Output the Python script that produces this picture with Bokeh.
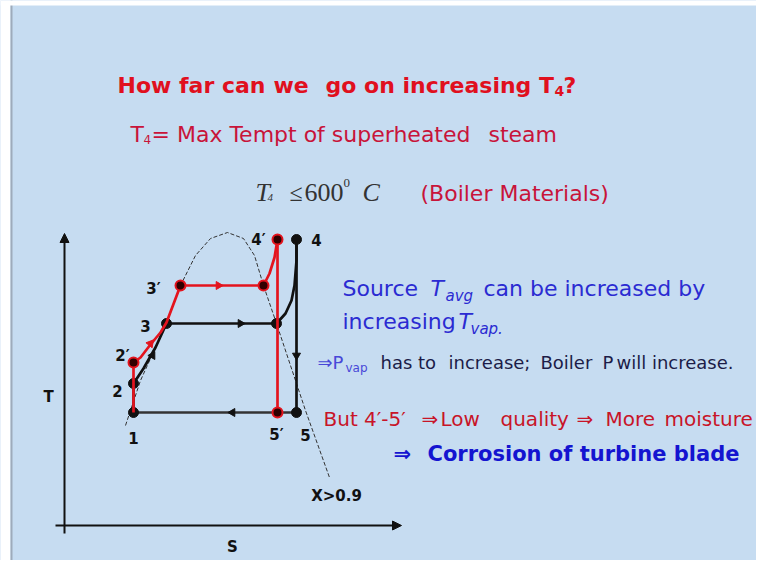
from bokeh.plotting import figure
from bokeh.models import Range1d, Label, Arrow, NormalHead, BoxAnnotation
from bokeh.embed import file_html
from bokeh.resources import INLINE
import math

# ---------------- data (s, T in arbitrary diagram units) ----------------
# original cycle 1-2-3-4-5 (black)
pump_s = [1.725, 1.725]
pump_T = [2.825, 3.55]
heat_s = [1.725, 1.975, 2.275, 2.55]
heat_T = [3.55, 3.925, 4.45, 5.05]
evap_s = [2.55, 5.3]
evap_T = [5.05, 5.05]
sup_s = [5.3, 5.525, 5.675, 5.75, 5.8, 5.8]
sup_T = [5.05, 5.3, 5.625, 6.0, 6.625, 7.15]
turb_s = [5.8, 5.8]
turb_T = [7.15, 2.825]
cond_s = [5.8, 1.725]
cond_T = [2.825, 2.825]

# raised-pressure cycle 1-2'-3'-4'-5' (red)
pump2_s = [1.725, 1.725]
pump2_T = [2.825, 4.075]
heat2_s = [1.725, 1.9, 2.15, 2.4, 2.55, 2.9]
heat2_T = [4.075, 4.2, 4.525, 4.825, 5.075, 6.0]
evap2_s = [2.9, 4.975]
evap2_T = [6.0, 6.0]
sup2_s = [4.975, 5.125, 5.25, 5.325]
sup2_T = [6.0, 6.3, 6.7, 7.15]
turb2_s = [5.325, 5.325]
turb2_T = [7.15, 2.825]

# saturation dome
dome_s = [1.525, 1.9, 2.55, 2.9, 3.275, 3.65, 4.075, 4.475, 4.75, 4.975, 5.3, 5.65, 6.025, 6.625]
dome_T = [2.5, 3.625, 5.05, 6.0, 6.75, 7.175, 7.325, 7.175, 6.75, 6.0, 5.05, 4.0, 2.875, 1.2]

# state points
black_pts_s = [1.725, 1.725, 2.55, 5.3, 5.8, 5.8]
black_pts_T = [2.825, 3.55, 5.05, 5.05, 7.15, 2.825]
red_pts_s = [1.725, 2.9, 4.975, 5.325, 5.325]
red_pts_T = [4.075, 6.0, 6.0, 7.15, 2.825]

# direction arrows on the process lines
arr_black_s = [4.4, 5.8, 4.2, 2.2]
arr_black_T = [5.05, 4.25, 2.825, 4.25]
arr_black_ang = [-math.pi / 2, math.pi, math.pi / 2, -0.52]
arr_red_s = [3.85, 2.15]
arr_red_T = [6.0, 4.55]
arr_red_ang = [-math.pi / 2, -0.68]

# axes extents
s_axis = [-0.225, 8.425]
T_axis = [-0.2, 7.3]

BG = "#c6dcf1"
RED = "#e4141e"
BLK = "#111111"

p = figure(width=756, height=560, x_range=Range1d(-1.6, 17.3), y_range=Range1d(-0.875, 13.125),
           x_axis_type=None, y_axis_type=None, toolbar_location=None, output_backend="svg",
           min_border=0, min_border_left=0, min_border_right=0, min_border_top=0, min_border_bottom=0)
p.background_fill_color = BG
p.border_fill_color = BG
p.outline_line_color = None
p.grid.visible = False

# slide border hints
p.add_layout(BoxAnnotation(left=0, right=10, left_units="screen", right_units="screen",
                           fill_color="white", fill_alpha=1, line_color=None))
p.add_layout(BoxAnnotation(left=10, right=12, left_units="screen", right_units="screen",
                           fill_color="#9eabbb", fill_alpha=1, line_color=None))
p.add_layout(BoxAnnotation(bottom=555, top=560, bottom_units="screen", top_units="screen",
                           fill_color="white", fill_alpha=1, line_color=None))

# axes
p.add_layout(Arrow(end=NormalHead(size=9, fill_color=BLK, line_color=BLK), x_start=0, y_start=T_axis[0],
                   x_end=0, y_end=T_axis[1], line_width=2, line_color=BLK))
p.add_layout(Arrow(end=NormalHead(size=9, fill_color=BLK, line_color=BLK), x_start=s_axis[0], y_start=0,
                   x_end=s_axis[1], y_end=0, line_width=2, line_color=BLK))

# dome
p.line(dome_s, dome_T, line_color="#333333", line_width=1, line_dash="4 2")

# black cycle
for xs, ys, c in [(pump_s, pump_T, BLK), (heat_s, heat_T, BLK), (evap_s, evap_T, BLK),
                  (sup_s, sup_T, BLK), (turb_s, turb_T, BLK), (cond_s, cond_T, "#333333")]:
    p.line(xs, ys, line_color=c, line_width=2.7, line_join="round")
p.scatter(black_pts_s, black_pts_T, marker="circle", size=10, fill_color=BLK, line_color=BLK)

# red cycle
for xs, ys in [(pump2_s, pump2_T), (heat2_s, heat2_T), (evap2_s, evap2_T), (sup2_s, sup2_T), (turb2_s, turb2_T)]:
    p.line(xs, ys, line_color=RED, line_width=2.7, line_join="round")
p.scatter(red_pts_s, red_pts_T, marker="circle", size=10, fill_color="#300000", line_color=RED, line_width=2)

p.scatter(arr_black_s, arr_black_T, marker="triangle", size=8, angle=arr_black_ang,
          fill_color=BLK, line_color=BLK)
p.scatter(arr_red_s, arr_red_T, marker="triangle", size=8, angle=arr_red_ang,
          fill_color=RED, line_color=RED)


def lab(x, y, text, size, color, font="DejaVu Sans", style="normal", align="left", baseline="alphabetic"):
    p.add_layout(Label(x=x, y=560 - y, x_units="screen", y_units="screen", text=text,
                       text_font=font, text_font_size=f"{size}px", text_font_style=style,
                       text_color=color, text_align=align, text_baseline=baseline))


# diagram labels
for t, x, y in [("4′", 258, 239), ("4", 316, 239), ("3′", 153, 288), ("3", 145, 325), ("2′", 122, 355),
                ("2", 117, 390), ("1", 133, 437), ("5′", 276, 434), ("5", 305, 434), ("T", 48, 396),
                ("S", 232, 546), ("X>0.9", 336, 495)]:
    lab(x, y, t, 15, BLK, style="bold", align="center", baseline="middle")

# title
TR = "#e0101e"
lab(117, 85, "How far can", 22, TR, style="bold")
lab(273, 85, "we", 22, TR, style="bold")
lab(325, 85, "go on increasing T", 22, TR, style="bold")
lab(554, 90, "4", 14, TR, style="bold")
lab(563, 85, "?", 22, TR, style="bold")

R2 = "#c8143a"
lab(130, 134, "T", 22, R2)
lab(143, 139, "4", 12, R2)
lab(151, 134, "= Max Tempt of superheated", 22, R2)
lab(488, 134, "steam", 22, R2)

EQ = "#333333"
lab(255, 192, "T", 26, EQ, font="Liberation Serif", style="italic")
lab(267, 197, "4", 11, EQ, font="Liberation Serif", style="italic")
lab(289, 192, "≤", 24, EQ, font="Liberation Serif")
lab(304, 192, "600", 26, EQ, font="Liberation Serif")
lab(343, 182, "0", 13, EQ, font="Liberation Serif")
lab(362, 192, "C", 26, EQ, font="Liberation Serif", style="italic")
lab(420, 193, "(Boiler Materials)", 22, R2)

BL = "#2b2bd2"
lab(342, 288, "Source", 22, BL)
lab(430, 288, "T", 22, BL, style="italic")
lab(445, 295, "avg", 15, BL, style="italic")
lab(483, 288, "can be increased by", 22, BL)
lab(342, 321, "increasing", 22, BL)
lab(458, 321, "T", 22, BL, style="italic")
lab(470, 328, "vap.", 15, BL, style="italic")

PB = "#4848d8"
DK = "#1c1c48"
lab(317, 362, "⇒P", 18, PB)
lab(345, 367, "vap", 12, PB)
lab(380, 362, "has to", 18, DK)
lab(448, 362, "increase;", 18, DK)
lab(540, 362, "Boiler", 18, DK)
lab(602, 362, "P", 18, DK)
lab(616, 362, "will increase.", 18, DK)

R3 = "#c81428"
lab(323, 418, "But 4′-5′", 20, R3)
lab(421, 418, "⇒", 20, R3)
lab(440, 418, "Low", 20, R3)
lab(500, 418, "quality", 20, R3)
lab(576, 418, "⇒", 20, R3)
lab(605, 418, "More", 20, R3)
lab(664, 418, "moisture", 20, R3)

CB = "#1414d0"
lab(393, 453, "⇒", 21, CB, style="bold")
lab(427, 453, "Corrosion of turbine blade", 21, CB, style="bold")

open("out.html", "w").write(file_html(p, INLINE))
